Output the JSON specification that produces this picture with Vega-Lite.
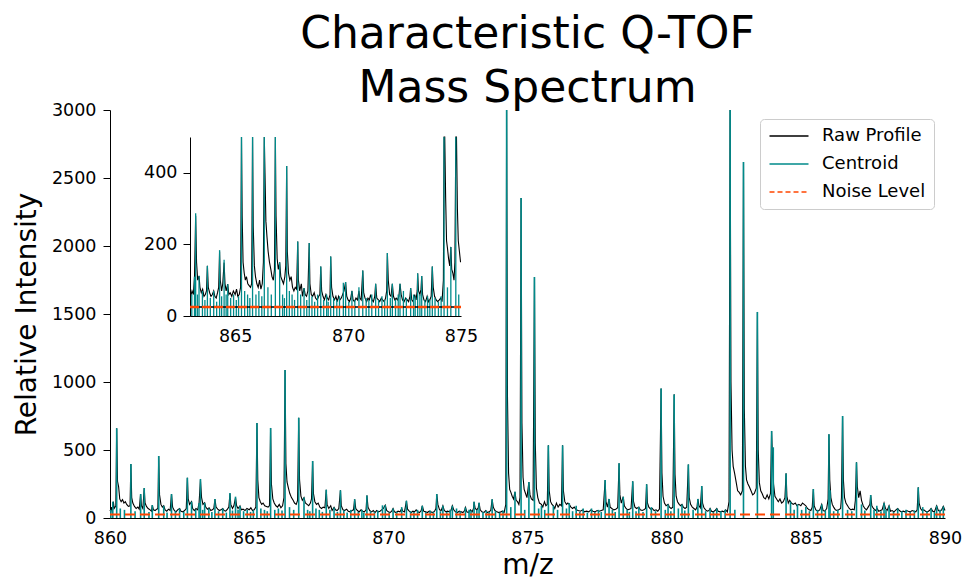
{
"$schema": "https://vega.github.io/schema/vega-lite/v6.json",
"width": 835, "height": 408,
"autosize": {"type": "none"},
"padding": {"left": 110, "top": 110, "right": 19, "bottom": 63},
"background": "white",
"title": {"text": ["Characteristic Q-TOF", "Mass Spectrum"], "fontSize": 44, "lineHeight": 54, "font": "DejaVu Sans", "fontWeight": "normal", "anchor": "middle", "offset": -10, "color": "black"},
"config": {
  "view": {"stroke": null},
  "font": "DejaVu Sans",
  "axis": {"grid": false, "domainColor": "black", "tickColor": "black", "labelColor": "black", "titleColor": "black", "domainWidth": 1, "tickWidth": 1, "tickSize": 7, "labelPadding": 7, "labelFontSize": 17.5, "titleFontSize": 28, "titleFontWeight": "normal", "labelFont": "DejaVu Sans", "titleFont": "DejaVu Sans", "labelFlush": false, "labelOverlap": false},
  "axisX": {"ticks": false, "tickSize": 0, "labelPadding": 11},
  "legend": {"orient": "none", "legendX": 650, "legendY": 9, "fillColor": "white", "strokeColor": "#cccccc", "cornerRadius": 4, "padding": 8, "labelFontSize": 18, "labelFont": "DejaVu Sans", "labelColor": "black", "symbolType": "M-3,0L3,0", "symbolSize": 169, "symbolStrokeWidth": 1.6, "symbolOffset": 12, "labelOffset": 24, "rowPadding": 10, "title": null}
},
"datasets": {
"noise": [{"m": 860, "i": 25}, {"m": 890, "i": 25}],
"cen": [
{"m":860.03,"i":60},{"m":860.10,"i":120},{"m":860.24,"i":660},{"m":860.37,"i":70},{"m":860.52,"i":60},{"m":860.75,"i":397},{"m":860.90,"i":50},{"m":861.10,"i":176},{"m":861.23,"i":220},{"m":861.40,"i":45},{"m":861.52,"i":95},{"m":861.75,"i":456},{"m":861.93,"i":90},{"m":862.05,"i":40},{"m":862.21,"i":176},{"m":862.35,"i":50},{"m":862.50,"i":70},{"m":862.65,"i":45},{"m":862.78,"i":296},{"m":862.93,"i":120},{"m":863.08,"i":60},{"m":863.20,"i":110},{"m":863.25,"i":287},{"m":863.33,"i":60},{"m":863.40,"i":112},{"m":863.55,"i":70},{"m":863.66,"i":45},{"m":863.77,"i":140},{"m":863.90,"i":50},{"m":864.05,"i":70},{"m":864.18,"i":40},{"m":864.31,"i":184},{"m":864.40,"i":55},{"m":864.51,"i":157},{"m":864.60,"i":60},{"m":864.67,"i":89},{"m":864.80,"i":50},{"m":864.93,"i":60},{"m":865.05,"i":45},{"m":865.15,"i":55},{"m":865.28,"i":698},{"m":865.42,"i":70},{"m":865.55,"i":60},{"m":865.65,"i":50},{"m":865.77,"i":662},{"m":865.92,"i":60},{"m":866.05,"i":70},{"m":866.18,"i":55},{"m":866.29,"i":1088},{"m":866.45,"i":80},{"m":866.60,"i":60},{"m":866.78,"i":737},{"m":866.97,"i":150},{"m":867.10,"i":60},{"m":867.18,"i":50},{"m":867.28,"i":419},{"m":867.40,"i":70},{"m":867.52,"i":60},{"m":867.63,"i":45},{"m":867.77,"i":208},{"m":867.90,"i":60},{"m":868.05,"i":78},{"m":868.17,"i":45},{"m":868.28,"i":204},{"m":868.40,"i":55},{"m":868.52,"i":40},{"m":868.65,"i":60},{"m":868.79,"i":138},{"m":868.92,"i":45},{"m":869.05,"i":60},{"m":869.12,"i":40},{"m":869.23,"i":166},{"m":869.36,"i":50},{"m":869.50,"i":45},{"m":869.62,"i":55},{"m":869.79,"i":93},{"m":869.89,"i":95},{"m":870.03,"i":40},{"m":870.17,"i":70},{"m":870.30,"i":45},{"m":870.48,"i":80},{"m":870.65,"i":127},{"m":870.80,"i":50},{"m":870.92,"i":45},{"m":871.05,"i":60},{"m":871.22,"i":90},{"m":871.35,"i":45},{"m":871.50,"i":55},{"m":871.62,"i":45},{"m":871.74,"i":176},{"m":871.87,"i":50},{"m":871.96,"i":90},{"m":872.10,"i":45},{"m":872.22,"i":60},{"m":872.30,"i":90},{"m":872.45,"i":70},{"m":872.58,"i":50},{"m":872.77,"i":78},{"m":872.90,"i":60},{"m":872.97,"i":55},{"m":873.08,"i":119},{"m":873.18,"i":60},{"m":873.26,"i":112},{"m":873.40,"i":45},{"m":873.52,"i":55},{"m":873.62,"i":45},{"m":873.73,"i":138},{"m":873.85,"i":50},{"m":874.00,"i":40},{"m":874.12,"i":55},{"m":874.25,"i":3500},{"m":874.40,"i":80},{"m":874.55,"i":193},{"m":874.77,"i":2353},{"m":874.90,"i":60},{"m":875.05,"i":265},{"m":875.25,"i":1772},{"m":875.40,"i":70},{"m":875.50,"i":90},{"m":875.62,"i":60},{"m":875.75,"i":534},{"m":875.93,"i":90},{"m":876.08,"i":60},{"m":876.26,"i":534},{"m":876.40,"i":70},{"m":876.50,"i":110},{"m":876.62,"i":50},{"m":876.75,"i":90},{"m":876.88,"i":45},{"m":877.00,"i":70},{"m":877.15,"i":40},{"m":877.30,"i":70},{"m":877.42,"i":45},{"m":877.55,"i":60},{"m":877.65,"i":45},{"m":877.79,"i":279},{"m":877.93,"i":140},{"m":878.05,"i":60},{"m":878.15,"i":45},{"m":878.29,"i":402},{"m":878.44,"i":156},{"m":878.58,"i":60},{"m":878.66,"i":45},{"m":878.78,"i":270},{"m":878.90,"i":50},{"m":879.00,"i":80},{"m":879.15,"i":45},{"m":879.28,"i":248},{"m":879.45,"i":80},{"m":879.60,"i":50},{"m":879.80,"i":953},{"m":879.95,"i":60},{"m":880.05,"i":100},{"m":880.15,"i":50},{"m":880.27,"i":909},{"m":880.42,"i":70},{"m":880.55,"i":100},{"m":880.65,"i":55},{"m":880.78,"i":394},{"m":880.95,"i":60},{"m":881.12,"i":140},{"m":881.26,"i":235},{"m":881.40,"i":50},{"m":881.56,"i":70},{"m":881.68,"i":45},{"m":881.80,"i":70},{"m":881.95,"i":50},{"m":882.10,"i":60},{"m":882.28,"i":3500},{"m":882.45,"i":60},{"m":882.76,"i":2617},{"m":883.26,"i":1515},{"m":883.77,"i":640},{"m":883.83,"i":520},{"m":884.29,"i":328},{"m":884.45,"i":120},{"m":884.58,"i":60},{"m":884.70,"i":100},{"m":884.85,"i":60},{"m":885.00,"i":80},{"m":885.13,"i":50},{"m":885.27,"i":213},{"m":885.42,"i":60},{"m":885.57,"i":100},{"m":885.70,"i":55},{"m":885.83,"i":615},{"m":885.87,"i":204},{"m":886.00,"i":50},{"m":886.15,"i":60},{"m":886.32,"i":750},{"m":886.50,"i":60},{"m":886.65,"i":50},{"m":886.82,"i":409},{"m":887.00,"i":100},{"m":887.12,"i":55},{"m":887.33,"i":169},{"m":887.45,"i":60},{"m":887.55,"i":90},{"m":887.70,"i":50},{"m":887.81,"i":110},{"m":887.88,"i":60},{"m":887.99,"i":90},{"m":888.15,"i":45},{"m":888.30,"i":70},{"m":888.45,"i":50},{"m":888.60,"i":60},{"m":888.75,"i":45},{"m":888.90,"i":55},{"m":889.04,"i":225},{"m":889.20,"i":80},{"m":889.35,"i":50},{"m":889.50,"i":70},{"m":889.62,"i":45},{"m":889.70,"i":90},{"m":889.82,"i":60},{"m":889.94,"i":85}
],
"raw": [
{"m":860.00,"i":60},{"m":860.03,"i":45},{"m":860.06,"i":80},{"m":860.09,"i":55},{"m":860.12,"i":120},{"m":860.15,"i":70},{"m":860.21,"i":90},{"m":860.24,"i":660},{"m":860.27,"i":270},{"m":860.31,"i":230},{"m":860.35,"i":140},{"m":860.40,"i":120},{"m":860.45,"i":135},{"m":860.50,"i":110},{"m":860.55,"i":120},{"m":860.60,"i":100},{"m":860.66,"i":85},{"m":860.72,"i":90},{"m":860.75,"i":397},{"m":860.78,"i":150},{"m":860.82,"i":110},{"m":860.88,"i":85},{"m":860.94,"i":70},{"m":861.00,"i":80},{"m":861.05,"i":65},{"m":861.10,"i":176},{"m":861.13,"i":90},{"m":861.18,"i":70},{"m":861.23,"i":220},{"m":861.26,"i":110},{"m":861.31,"i":85},{"m":861.37,"i":70},{"m":861.44,"i":60},{"m":861.49,"i":50},{"m":861.52,"i":95},{"m":861.56,"i":60},{"m":861.62,"i":55},{"m":861.68,"i":65},{"m":861.72,"i":70},{"m":861.75,"i":456},{"m":861.78,"i":170},{"m":861.83,"i":100},{"m":861.88,"i":80},{"m":861.93,"i":90},{"m":861.98,"i":60},{"m":862.04,"i":50},{"m":862.10,"i":65},{"m":862.16,"i":55},{"m":862.21,"i":176},{"m":862.25,"i":80},{"m":862.31,"i":55},{"m":862.37,"i":45},{"m":862.43,"i":60},{"m":862.50,"i":70},{"m":862.55,"i":50},{"m":862.62,"i":45},{"m":862.68,"i":55},{"m":862.74,"i":70},{"m":862.78,"i":296},{"m":862.81,"i":140},{"m":862.86,"i":100},{"m":862.93,"i":120},{"m":862.97,"i":70},{"m":863.03,"i":55},{"m":863.09,"i":70},{"m":863.15,"i":60},{"m":863.20,"i":110},{"m":863.25,"i":280},{"m":863.29,"i":150},{"m":863.34,"i":100},{"m":863.40,"i":112},{"m":863.44,"i":80},{"m":863.50,"i":65},{"m":863.56,"i":75},{"m":863.62,"i":55},{"m":863.68,"i":60},{"m":863.73,"i":70},{"m":863.77,"i":140},{"m":863.81,"i":80},{"m":863.87,"i":65},{"m":863.93,"i":55},{"m":863.99,"i":60},{"m":864.05,"i":70},{"m":864.10,"i":55},{"m":864.16,"i":50},{"m":864.22,"i":65},{"m":864.27,"i":80},{"m":864.31,"i":180},{"m":864.34,"i":100},{"m":864.40,"i":70},{"m":864.45,"i":90},{"m":864.51,"i":149},{"m":864.55,"i":90},{"m":864.60,"i":70},{"m":864.67,"i":89},{"m":864.72,"i":60},{"m":864.78,"i":65},{"m":864.85,"i":55},{"m":864.92,"i":70},{"m":865.00,"i":60},{"m":865.06,"i":75},{"m":865.12,"i":55},{"m":865.18,"i":60},{"m":865.24,"i":80},{"m":865.28,"i":698},{"m":865.31,"i":280},{"m":865.35,"i":150},{"m":865.40,"i":120},{"m":865.45,"i":100},{"m":865.50,"i":110},{"m":865.56,"i":90},{"m":865.62,"i":85},{"m":865.68,"i":80},{"m":865.73,"i":90},{"m":865.77,"i":662},{"m":865.80,"i":250},{"m":865.85,"i":140},{"m":865.90,"i":110},{"m":865.96,"i":90},{"m":866.02,"i":80},{"m":866.08,"i":100},{"m":866.14,"i":75},{"m":866.20,"i":90},{"m":866.25,"i":150},{"m":866.29,"i":1088},{"m":866.32,"i":400},{"m":866.36,"i":265},{"m":866.41,"i":220},{"m":866.46,"i":180},{"m":866.52,"i":150},{"m":866.58,"i":130},{"m":866.63,"i":110},{"m":866.69,"i":100},{"m":866.74,"i":130},{"m":866.78,"i":737},{"m":866.81,"i":280},{"m":866.86,"i":160},{"m":866.91,"i":130},{"m":866.97,"i":150},{"m":867.02,"i":110},{"m":867.08,"i":100},{"m":867.14,"i":90},{"m":867.20,"i":110},{"m":867.24,"i":140},{"m":867.28,"i":419},{"m":867.31,"i":180},{"m":867.36,"i":120},{"m":867.42,"i":100},{"m":867.48,"i":110},{"m":867.54,"i":80},{"m":867.60,"i":70},{"m":867.66,"i":80},{"m":867.72,"i":75},{"m":867.77,"i":208},{"m":867.80,"i":100},{"m":867.86,"i":70},{"m":867.93,"i":90},{"m":867.98,"i":55},{"m":868.05,"i":78},{"m":868.10,"i":60},{"m":868.16,"i":55},{"m":868.22,"i":70},{"m":868.28,"i":204},{"m":868.31,"i":90},{"m":868.37,"i":60},{"m":868.43,"i":55},{"m":868.50,"i":65},{"m":868.56,"i":50},{"m":868.63,"i":45},{"m":868.70,"i":55},{"m":868.75,"i":60},{"m":868.79,"i":138},{"m":868.83,"i":70},{"m":868.89,"i":55},{"m":868.95,"i":45},{"m":869.02,"i":60},{"m":869.08,"i":50},{"m":869.14,"i":45},{"m":869.20,"i":60},{"m":869.23,"i":166},{"m":869.27,"i":80},{"m":869.33,"i":55},{"m":869.40,"i":45},{"m":869.46,"i":55},{"m":869.52,"i":40},{"m":869.58,"i":55},{"m":869.64,"i":45},{"m":869.70,"i":50},{"m":869.76,"i":60},{"m":869.82,"i":70},{"m":869.89,"i":95},{"m":869.94,"i":55},{"m":870.00,"i":45},{"m":870.06,"i":40},{"m":870.12,"i":50},{"m":870.17,"i":70},{"m":870.22,"i":45},{"m":870.28,"i":40},{"m":870.35,"i":50},{"m":870.42,"i":45},{"m":870.48,"i":70},{"m":870.52,"i":50},{"m":870.58,"i":45},{"m":870.65,"i":127},{"m":870.69,"i":65},{"m":870.75,"i":50},{"m":870.82,"i":40},{"m":870.88,"i":50},{"m":870.94,"i":45},{"m":871.00,"i":60},{"m":871.06,"i":45},{"m":871.12,"i":40},{"m":871.18,"i":55},{"m":871.22,"i":90},{"m":871.27,"i":50},{"m":871.34,"i":45},{"m":871.40,"i":40},{"m":871.47,"i":50},{"m":871.53,"i":45},{"m":871.60,"i":40},{"m":871.66,"i":50},{"m":871.71,"i":70},{"m":871.74,"i":176},{"m":871.78,"i":100},{"m":871.84,"i":60},{"m":871.90,"i":55},{"m":871.96,"i":90},{"m":872.01,"i":55},{"m":872.07,"i":45},{"m":872.13,"i":50},{"m":872.19,"i":45},{"m":872.25,"i":55},{"m":872.30,"i":90},{"m":872.35,"i":60},{"m":872.41,"i":45},{"m":872.48,"i":40},{"m":872.55,"i":50},{"m":872.62,"i":45},{"m":872.68,"i":40},{"m":872.74,"i":55},{"m":872.77,"i":78},{"m":872.82,"i":45},{"m":872.88,"i":40},{"m":872.95,"i":60},{"m":873.01,"i":45},{"m":873.06,"i":70},{"m":873.08,"i":119},{"m":873.12,"i":70},{"m":873.18,"i":60},{"m":873.23,"i":75},{"m":873.26,"i":112},{"m":873.30,"i":60},{"m":873.36,"i":45},{"m":873.43,"i":40},{"m":873.50,"i":55},{"m":873.56,"i":40},{"m":873.62,"i":45},{"m":873.68,"i":55},{"m":873.73,"i":138},{"m":873.77,"i":80},{"m":873.83,"i":55},{"m":873.90,"i":45},{"m":873.97,"i":40},{"m":874.04,"i":45},{"m":874.10,"i":50},{"m":874.16,"i":40},{"m":874.22,"i":100},{"m":874.25,"i":3500},{"m":874.28,"i":900},{"m":874.32,"i":330},{"m":874.36,"i":210},{"m":874.40,"i":190},{"m":874.45,"i":160},{"m":874.50,"i":140},{"m":874.55,"i":193},{"m":874.59,"i":130},{"m":874.64,"i":120},{"m":874.69,"i":100},{"m":874.73,"i":150},{"m":874.77,"i":2353},{"m":874.80,"i":700},{"m":874.84,"i":300},{"m":874.88,"i":210},{"m":874.93,"i":180},{"m":874.98,"i":150},{"m":875.05,"i":265},{"m":875.09,"i":170},{"m":875.14,"i":140},{"m":875.20,"i":130},{"m":875.25,"i":1772},{"m":875.28,"i":550},{"m":875.32,"i":220},{"m":875.37,"i":150},{"m":875.43,"i":110},{"m":875.50,"i":100},{"m":875.55,"i":80},{"m":875.61,"i":120},{"m":875.66,"i":90},{"m":875.71,"i":100},{"m":875.75,"i":534},{"m":875.78,"i":200},{"m":875.83,"i":120},{"m":875.88,"i":100},{"m":875.93,"i":90},{"m":875.98,"i":70},{"m":876.04,"i":110},{"m":876.10,"i":80},{"m":876.16,"i":100},{"m":876.22,"i":90},{"m":876.26,"i":534},{"m":876.29,"i":200},{"m":876.34,"i":120},{"m":876.40,"i":100},{"m":876.45,"i":110},{"m":876.50,"i":100},{"m":876.56,"i":80},{"m":876.62,"i":70},{"m":876.68,"i":80},{"m":876.75,"i":60},{"m":876.82,"i":55},{"m":876.90,"i":50},{"m":876.98,"i":60},{"m":877.05,"i":45},{"m":877.12,"i":50},{"m":877.20,"i":45},{"m":877.28,"i":60},{"m":877.35,"i":50},{"m":877.42,"i":45},{"m":877.50,"i":55},{"m":877.58,"i":50},{"m":877.65,"i":55},{"m":877.72,"i":60},{"m":877.79,"i":279},{"m":877.82,"i":120},{"m":877.87,"i":80},{"m":877.93,"i":140},{"m":877.97,"i":80},{"m":878.03,"i":70},{"m":878.10,"i":60},{"m":878.17,"i":65},{"m":878.24,"i":75},{"m":878.29,"i":402},{"m":878.32,"i":170},{"m":878.37,"i":110},{"m":878.44,"i":156},{"m":878.48,"i":90},{"m":878.54,"i":70},{"m":878.60,"i":60},{"m":878.66,"i":65},{"m":878.72,"i":70},{"m":878.78,"i":270},{"m":878.81,"i":120},{"m":878.86,"i":80},{"m":878.92,"i":70},{"m":879.00,"i":80},{"m":879.05,"i":60},{"m":879.12,"i":55},{"m":879.18,"i":60},{"m":879.24,"i":70},{"m":879.28,"i":248},{"m":879.31,"i":110},{"m":879.36,"i":80},{"m":879.42,"i":65},{"m":879.48,"i":70},{"m":879.55,"i":55},{"m":879.62,"i":60},{"m":879.68,"i":50},{"m":879.74,"i":65},{"m":879.80,"i":953},{"m":879.83,"i":330},{"m":879.87,"i":160},{"m":879.92,"i":110},{"m":879.98,"i":90},{"m":880.05,"i":100},{"m":880.10,"i":80},{"m":880.16,"i":70},{"m":880.22,"i":80},{"m":880.27,"i":909},{"m":880.30,"i":320},{"m":880.34,"i":160},{"m":880.39,"i":120},{"m":880.45,"i":100},{"m":880.50,"i":90},{"m":880.55,"i":100},{"m":880.60,"i":80},{"m":880.66,"i":70},{"m":880.72,"i":80},{"m":880.78,"i":394},{"m":880.81,"i":150},{"m":880.86,"i":100},{"m":880.92,"i":80},{"m":880.98,"i":70},{"m":881.04,"i":60},{"m":881.09,"i":80},{"m":881.12,"i":140},{"m":881.16,"i":90},{"m":881.21,"i":75},{"m":881.26,"i":235},{"m":881.29,"i":110},{"m":881.34,"i":75},{"m":881.40,"i":60},{"m":881.46,"i":50},{"m":881.52,"i":55},{"m":881.56,"i":70},{"m":881.61,"i":50},{"m":881.67,"i":45},{"m":881.74,"i":55},{"m":881.80,"i":70},{"m":881.85,"i":50},{"m":881.92,"i":45},{"m":882.00,"i":50},{"m":882.06,"i":45},{"m":882.12,"i":60},{"m":882.18,"i":45},{"m":882.24,"i":120},{"m":882.28,"i":3500},{"m":882.31,"i":1000},{"m":882.35,"i":500},{"m":882.39,"i":380},{"m":882.44,"i":330},{"m":882.50,"i":260},{"m":882.55,"i":200},{"m":882.60,"i":190},{"m":882.66,"i":170},{"m":882.72,"i":200},{"m":882.76,"i":2617},{"m":882.79,"i":800},{"m":882.83,"i":380},{"m":882.87,"i":280},{"m":882.92,"i":250},{"m":882.97,"i":230},{"m":883.03,"i":200},{"m":883.09,"i":170},{"m":883.15,"i":180},{"m":883.22,"i":220},{"m":883.26,"i":1515},{"m":883.29,"i":500},{"m":883.33,"i":260},{"m":883.38,"i":200},{"m":883.43,"i":180},{"m":883.49,"i":150},{"m":883.55,"i":140},{"m":883.61,"i":170},{"m":883.67,"i":140},{"m":883.73,"i":180},{"m":883.77,"i":640},{"m":883.80,"i":450},{"m":883.84,"i":250},{"m":883.89,"i":160},{"m":883.95,"i":140},{"m":884.01,"i":120},{"m":884.07,"i":140},{"m":884.13,"i":110},{"m":884.19,"i":120},{"m":884.25,"i":150},{"m":884.29,"i":328},{"m":884.32,"i":160},{"m":884.37,"i":110},{"m":884.42,"i":130},{"m":884.48,"i":110},{"m":884.55,"i":100},{"m":884.62,"i":110},{"m":884.68,"i":90},{"m":884.75,"i":100},{"m":884.82,"i":90},{"m":884.88,"i":110},{"m":884.94,"i":100},{"m":885.00,"i":90},{"m":885.06,"i":70},{"m":885.12,"i":60},{"m":885.18,"i":55},{"m":885.23,"i":80},{"m":885.27,"i":213},{"m":885.30,"i":90},{"m":885.36,"i":60},{"m":885.43,"i":50},{"m":885.50,"i":60},{"m":885.57,"i":100},{"m":885.62,"i":55},{"m":885.68,"i":50},{"m":885.75,"i":70},{"m":885.80,"i":140},{"m":885.83,"i":615},{"m":885.86,"i":280},{"m":885.90,"i":150},{"m":885.95,"i":100},{"m":886.00,"i":80},{"m":886.06,"i":60},{"m":886.12,"i":55},{"m":886.18,"i":60},{"m":886.25,"i":70},{"m":886.28,"i":150},{"m":886.32,"i":750},{"m":886.35,"i":280},{"m":886.39,"i":150},{"m":886.44,"i":110},{"m":886.50,"i":90},{"m":886.56,"i":70},{"m":886.62,"i":60},{"m":886.68,"i":65},{"m":886.74,"i":60},{"m":886.78,"i":130},{"m":886.82,"i":409},{"m":886.85,"i":230},{"m":886.90,"i":150},{"m":886.95,"i":200},{"m":887.00,"i":130},{"m":887.06,"i":90},{"m":887.12,"i":70},{"m":887.18,"i":60},{"m":887.24,"i":80},{"m":887.30,"i":100},{"m":887.33,"i":169},{"m":887.37,"i":90},{"m":887.43,"i":70},{"m":887.50,"i":55},{"m":887.56,"i":70},{"m":887.62,"i":50},{"m":887.68,"i":55},{"m":887.74,"i":60},{"m":887.81,"i":110},{"m":887.86,"i":70},{"m":887.92,"i":55},{"m":887.99,"i":90},{"m":888.04,"i":50},{"m":888.10,"i":55},{"m":888.17,"i":45},{"m":888.24,"i":60},{"m":888.30,"i":70},{"m":888.36,"i":55},{"m":888.43,"i":45},{"m":888.50,"i":50},{"m":888.56,"i":45},{"m":888.62,"i":55},{"m":888.68,"i":50},{"m":888.75,"i":45},{"m":888.82,"i":55},{"m":888.89,"i":50},{"m":888.95,"i":45},{"m":889.00,"i":60},{"m":889.04,"i":225},{"m":889.07,"i":110},{"m":889.12,"i":70},{"m":889.18,"i":55},{"m":889.24,"i":60},{"m":889.30,"i":50},{"m":889.37,"i":45},{"m":889.44,"i":55},{"m":889.50,"i":70},{"m":889.56,"i":50},{"m":889.62,"i":45},{"m":889.70,"i":90},{"m":889.76,"i":55},{"m":889.82,"i":50},{"m":889.88,"i":60},{"m":889.94,"i":85},{"m":890.00,"i":55}
]
},
"layer": [
  {
    "encoding": {
      "x": {"field": "m", "type": "quantitative", "scale": {"domain": [860, 890], "nice": false, "zero": false},
            "axis": {"values": [860, 865, 870, 875, 880, 885, 890], "title": "m/z", "titlePadding": 5}},
      "y": {"field": "i", "type": "quantitative", "scale": {"domain": [0, 3000], "nice": false, "clamp": true},
            "axis": {"values": [0, 500, 1000, 1500, 2000, 2500, 3000], "format": "d", "title": "Relative Intensity", "titlePadding": 10}}
    },
    "layer": [
      {"data": {"name": "raw"}, "mark": {"type": "line", "strokeWidth": 1.1},
       "encoding": {"color": {"datum": "Raw Profile", "scale": {"domain": ["Raw Profile", "Centroid", "Noise Level"], "range": ["#000000", "#008b8b", "#ff4500"]},
         "legend": {"encode": {"symbols": {"update": {"strokeDash": {"signal": "datum.label === 'Noise Level' ? [5, 3] : [1, 0]"}}}}}}}},
      {"data": {"name": "cen"}, "mark": {"type": "rule", "strokeWidth": 1.6},
       "encoding": {"y2": {"datum": 0}, "color": {"datum": "Centroid"}}},
      {"data": {"name": "noise"}, "mark": {"type": "line", "strokeWidth": 2, "strokeDash": [10, 5]},
       "encoding": {"color": {"datum": "Noise Level"}}}
    ]
  },
  {
    "encoding": {
      "x": {"field": "m", "type": "quantitative", "scale": {"domain": [863, 875], "nice": false, "zero": false, "clamp": true, "range": [80, 351]},
            "axis": {"values": [865, 870, 875], "title": null, "orient": "bottom", "offset": -202}},
      "y": {"field": "i", "type": "quantitative", "scale": {"domain": [0, 500], "nice": false, "clamp": true, "range": [206, 27]},
            "axis": {"values": [0, 200, 400], "format": "d", "title": null, "orient": "left", "offset": -80, "labelPadding": 6}}
    },
    "layer": [
      {"data": {"name": "raw"}, "transform": [{"filter": {"field": "m", "range": [863, 875]}}],
       "mark": {"type": "line", "strokeWidth": 1.1, "color": "#000000"}, "encoding": {}},
      {"data": {"name": "cen"}, "transform": [{"filter": {"field": "m", "range": [863, 875]}}],
       "mark": {"type": "rule", "strokeWidth": 1.3, "color": "#008b8b"}, "encoding": {"y2": {"datum": 0}}},
      {"data": {"name": "noise"}, "mark": {"type": "line", "strokeWidth": 1.5, "color": "#000000"}, "encoding": {}},
      {"data": {"name": "noise"}, "mark": {"type": "line", "strokeWidth": 2.5, "strokeDash": [9, 3], "color": "#ff4500"}, "encoding": {}}
    ]
  }
],
"resolve": {"scale": {"x": "independent", "y": "independent"}, "axis": {"x": "independent", "y": "independent"}}
}
